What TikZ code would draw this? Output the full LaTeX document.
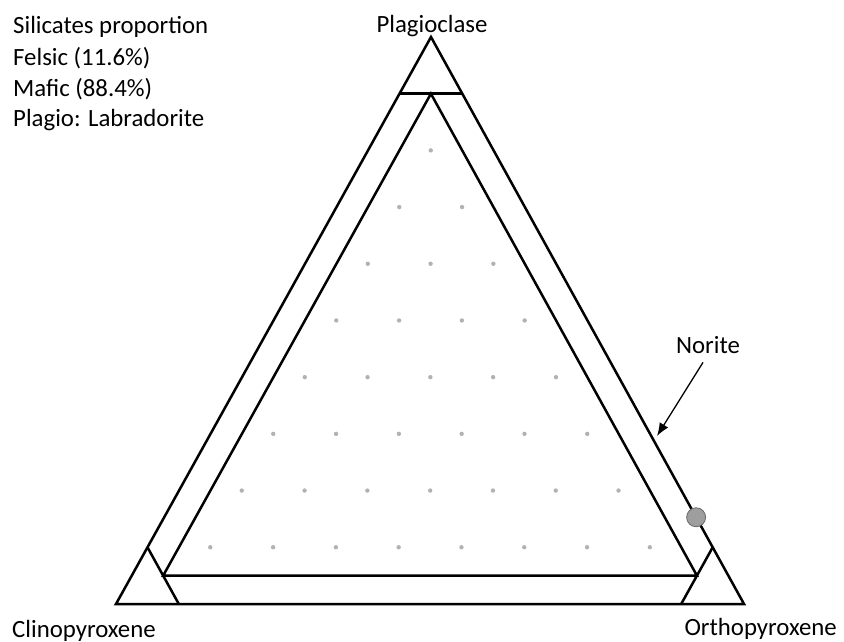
\documentclass[tikz,border=0pt]{standalone}
\usepackage{fontspec}
\setmainfont{Carlito}
\usetikzlibrary{arrows.meta,calc}
\begin{document}
\begin{tikzpicture}[x=1pt,y=-1pt,
  edge/.style={line width=2.5pt,line join=miter},
  griddot/.style={fill=black!30,draw=none},
  label/.style={inner sep=0pt,font=\fontsize{24.8}{30}\selectfont,text=black},
  pointer/.style={line width=1.3pt,-{Latex[length=13pt,width=10pt]}}]
\useasboundingbox (0,0) rectangle (844,642);
% outer vertices
\coordinate (A) at (431,37);
\coordinate (B) at (116,604);
\coordinate (C) at (744,604);
% corner cut points
\coordinate (tA1) at (barycentric cs:A=0.9,B=0.1,C=0);
\coordinate (tA2) at (barycentric cs:A=0.9,B=0,C=0.1);
\coordinate (tB1) at (barycentric cs:A=0.1,B=0.9,C=0);
\coordinate (tB2) at (barycentric cs:A=0,B=0.9,C=0.1);
\coordinate (tC1) at (barycentric cs:A=0.1,B=0,C=0.9);
\coordinate (tC2) at (barycentric cs:A=0,B=0.1,C=0.9);
% inner triangle
\coordinate (iA) at (barycentric cs:A=0.9,B=0.05,C=0.05);
\coordinate (iB) at (barycentric cs:A=0.05,B=0.9,C=0.05);
\coordinate (iC) at (barycentric cs:A=0.05,B=0.05,C=0.9);
% grid dots
\foreach \i in {1,...,8}{
  \pgfmathtruncatemacro\jmax{9-\i}
  \foreach \j in {1,...,\jmax}{
    \pgfmathtruncatemacro\k{10-\i-\j}
    \fill[griddot] (barycentric cs:A=\i,B=\j,C=\k) circle (2.2pt);
  }
}
% lines
\draw[edge] (A) -- (B) -- (C) -- cycle;
\draw[edge] (tA1) -- (tA2);
\draw[edge] (tB1) -- (tB2);
\draw[edge] (tC1) -- (tC2);
\draw[edge] (iA) -- (iB) -- (iC) -- cycle;
% sample point
\coordinate (sample) at (barycentric cs:A=0.153,B=0,C=0.847);
\draw[fill=black!38,draw=black!60,line width=0.8pt] (sample) circle (9.5pt);
% labels
\node[label,anchor=base] (plag) at (432,33) {Plagioclase};
\node[label,anchor=base west] (cpx) at (12,637) {Clinopyroxene};
\node[label,anchor=base east] (opx) at (837,635) {Orthopyroxene};
\node[label,anchor=base west] (t1) at (13,34) {Silicates proportion};
\node[label,anchor=base west] (t2) at (13,66) {Felsic (11.6\%)};
\node[label,anchor=base west] (t3) at (13,96) {Mafic (88.4\%)};
\node[label,anchor=base west] (t4) at (13,126) {Plagio: Labradorite};
\node[label,anchor=base] (norite) at (708,353) {Norite};
\coordinate (noritetip) at (657,436);
\draw[pointer] ([xshift=-5pt,yshift=-9pt]norite.south) -- (noritetip);
\end{tikzpicture}
\end{document}
